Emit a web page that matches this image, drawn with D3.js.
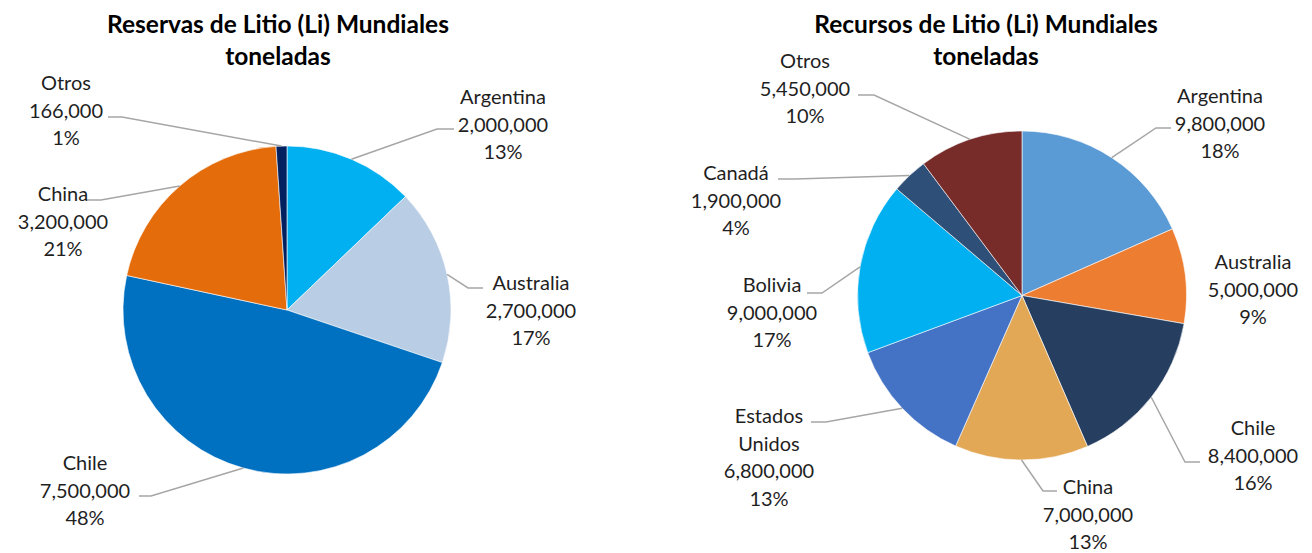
<!DOCTYPE html>
<html>
<head>
<meta charset="utf-8">
<script src="https://cdn.jsdelivr.net/npm/d3@7"></script>
<style>
  body { margin: 0; background: #fff; }
  svg { display: block; font-family: Lato, "Open Sans", sans-serif; }
</style>
</head>
<body>
<svg width="1312" height="553"></svg>
<script>
// Reservas (left chart)
const reservasPaises = ["Argentina", "Australia", "Chile", "China", "Otros"]
const reservasToneladas = [2000000, 2700000, 7500000, 3200000, 166000]
const reservasColores = ["#00B0F0", "#B9CDE5", "#0070C0", "#E46C0A", "#002060"]

// Recursos (right chart)
const recursosPaises = ["Argentina", "Australia", "Chile", "China", "Estados Unidos", "Bolivia", "Canadá", "Otros"]
const recursosToneladas = [9800000, 5000000, 8400000, 7000000, 6800000, 9000000, 1900000, 5450000]
const recursosColores = ["#5B9BD5", "#ED7D31", "#263F60", "#E2A856", "#4472C4", "#00B0F0", "#2E4F77", "#772C2A"]

// label placement: text centre x, first line centre y, leader elbow x/y, leader end x (null = no leader)
const reservasLabels = [
	{ tx: 503, ty: 97, ex: 437, ey: 129, hx: 454 },
	{ tx: 531, ty: 283, ex: 468, ey: 288, hx: 483 },
	{ tx: 85, ty: 463, ex: 151, ey: 496, hx: 139 },
	{ tx: 63, ty: 194, ex: 101, ey: 200, hx: 86 },
	{ tx: 66, ty: 83, ex: 122, ey: 117, hx: 108 }
]
const recursosLabels = [
	{ tx: 1220, ty: 96, ex: 1156, ey: 128, hx: 1171 },
	{ tx: 1253, ty: 262, ex: null },
	{ tx: 1253, ty: 428, ex: 1185, ey: 462, hx: 1200 },
	{ tx: 1088, ty: 487, ex: 1043, ey: 491, hx: 1057 },
	{ tx: 769, ty: 416, ex: 826, ey: 422, hx: 811 },
	{ tx: 772, ty: 285, ex: 822, ey: 293, hx: 807 },
	{ tx: 736, ty: 173, ex: 795, ey: 179, hx: 778 },
	{ tx: 805, ty: 61, ex: 874, ey: 95, hx: 858 }
]

const svg = d3.select("svg")
const fmt = d3.format(",")

function drawPie(opts) {
	const total = d3.sum(opts.values)
	const data = opts.names.map((n, i) => ({ name: n, value: opts.values[i], color: opts.colors[i], label: opts.labels[i] }))

	const pie = d3.pie().value(d => d.value).sort(null)
	const arc = d3.arc().innerRadius(0).outerRadius(opts.r)
	const arcs = pie(data)

	const g = svg.append("g")

	// title
	g.append("text")
		.attr("x", opts.titleX)
		.attr("y", 24)
		.attr("text-anchor", "middle")
		.attr("font-weight", "bold")
		.attr("font-size", 24.5)
		.attr("fill", "#000")
		.selectAll("tspan")
		.data(opts.title)
		.join("tspan")
		.attr("x", opts.titleX)
		.attr("dy", (d, i) => i == 0 ? "0.35em" : 32)
		.text(d => d)

	const pieG = g.append("g").attr("transform", `translate(${opts.cx},${opts.cy})`)
	pieG.selectAll("path")
		.data(arcs)
		.join("path")
		.attr("d", arc)
		.attr("fill", d => d.data.color)
		.attr("stroke", "#fff")
		.attr("stroke-width", 0.6)

	// leader lines
	arcs.forEach(a => {
		const L = a.data.label
		if (L.ex == null) return
		const mid = (a.startAngle + a.endAngle) / 2
		const sx = opts.cx + opts.r * Math.sin(mid)
		const sy = opts.cy - opts.r * Math.cos(mid)
		g.append("polyline")
			.attr("points", `${sx},${sy} ${L.ex},${L.ey} ${L.hx},${L.ey}`)
			.attr("fill", "none")
			.attr("stroke", "#A6A6A6")
			.attr("stroke-width", 1.5)
	})

	// labels
	arcs.forEach(a => {
		const L = a.data.label
		const lines = a.data.name.split(" ").concat([fmt(a.data.value), Math.round(a.data.value / total * 100) + "%"])
		const t = g.append("text")
			.attr("text-anchor", "middle")
			.attr("font-size", 20)
			.attr("fill", "#1f1f1f")
		lines.forEach((s, i) => {
			t.append("tspan")
				.attr("x", L.tx)
				.attr("y", L.ty + i * 27.7)
				.attr("dy", "0.35em")
				.text(s)
		})
	})
}

drawPie({
	names: reservasPaises, values: reservasToneladas, colors: reservasColores, labels: reservasLabels,
	cx: 287, cy: 310, r: 164, titleX: 278,
	title: ["Reservas de Litio (Li) Mundiales", "toneladas"]
})

drawPie({
	names: recursosPaises, values: recursosToneladas, colors: recursosColores, labels: recursosLabels,
	cx: 1022, cy: 295.5, r: 164.5, titleX: 986,
	title: ["Recursos de Litio (Li) Mundiales", "toneladas"]
})
</script>
</body>
</html>
